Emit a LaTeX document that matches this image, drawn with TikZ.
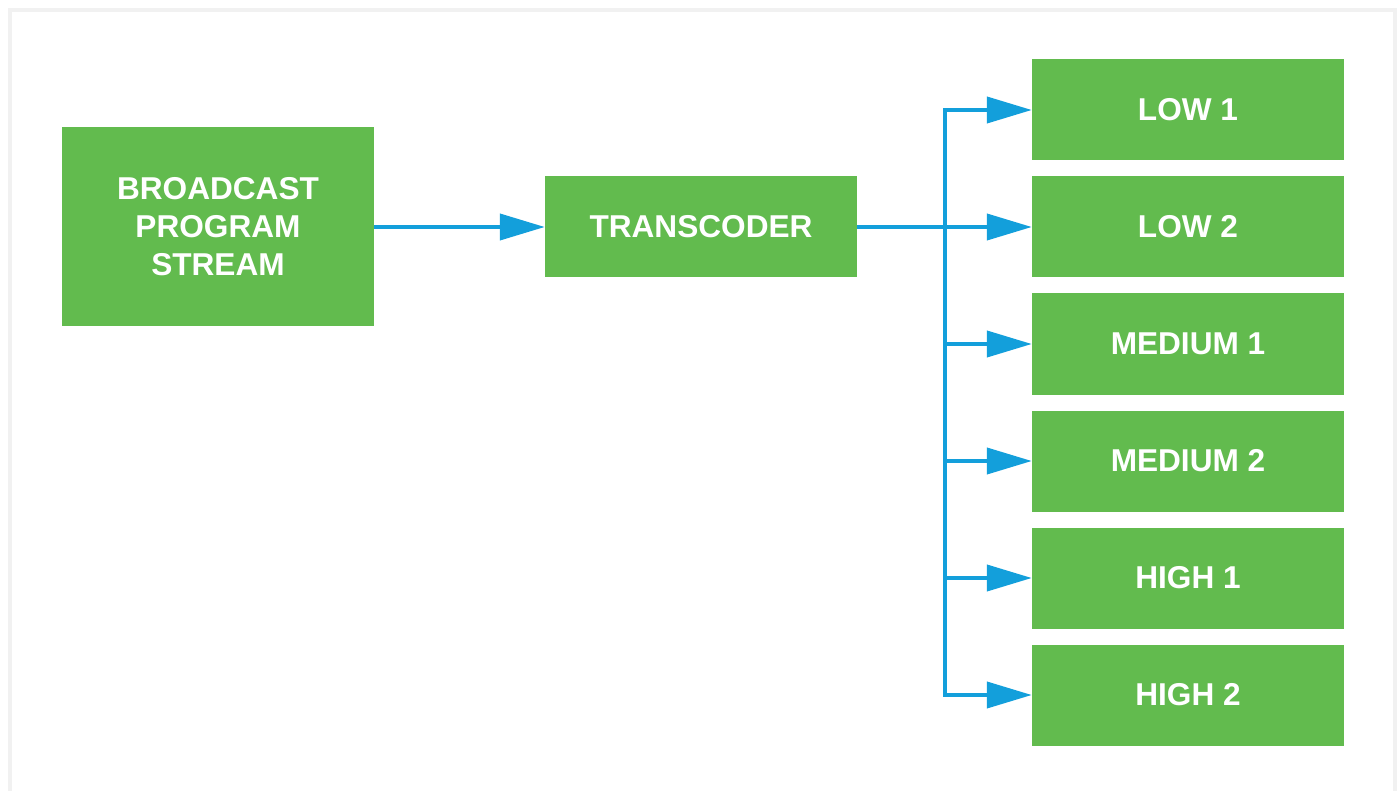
\documentclass[tikz,border=0pt]{standalone}
\usepackage{fontspec}
\setmainfont{Liberation Sans}
\usetikzlibrary{positioning, arrows.meta}
\definecolor{boxgreen}{HTML}{62BB4E}
\definecolor{flowblue}{HTML}{139FDB}
\definecolor{framegray}{HTML}{F1F1F1}
\tikzset{
>={Triangle[length=45pt, width=26pt]}, % wide flat arrow heads
node distance=117pt, % pitch of the output boxes
}
\tikzstyle{block} = [rectangle, fill=boxgreen, text=white, align=center,
    minimum width=312pt, minimum height=101pt, inner sep=0pt,
    font=\bfseries\fontsize{31.6}{38}\selectfont]
\tikzstyle{line} = [draw=flowblue, line width=4pt, ->]
\tikzstyle{frame} = [draw=framegray, line width=4pt]
\begin{document}
\begin{tikzpicture}[x=1pt, y=-1pt]
\useasboundingbox (0,0) rectangle (1399,791);
\draw [frame] (10,10) rectangle (1395,800);

\node [block, minimum height=199pt] (bps) at (218,227) {BROADCAST\\PROGRAM\\STREAM};
\node [block, right of=bps, node distance=483pt] (trans) {TRANSCODER};
\node [block, right of=trans, node distance=487pt] (low2) {LOW 2};
\node [block, above of=low2] (low1) {LOW 1};
\node [block, below of=low2] (med1) {MEDIUM 1};
\node [block, below of=med1] (med2) {MEDIUM 2};
\node [block, below of=med2] (high1) {HIGH 1};
\node [block, below of=high1] (high2) {HIGH 2};
\coordinate [right of=trans, node distance=244pt] (bus);

  \path [line] (bps) -- (trans);
  \path [line] (trans) -- (low2);
  \path [line] (bus) |- (low1);
  \path [line] (bus) |- (med1);
  \path [line] (bus) |- (med2);
  \path [line] (bus) |- (high1);
  \path [line] (bus) |- (high2);

\end{tikzpicture}
\end{document}
